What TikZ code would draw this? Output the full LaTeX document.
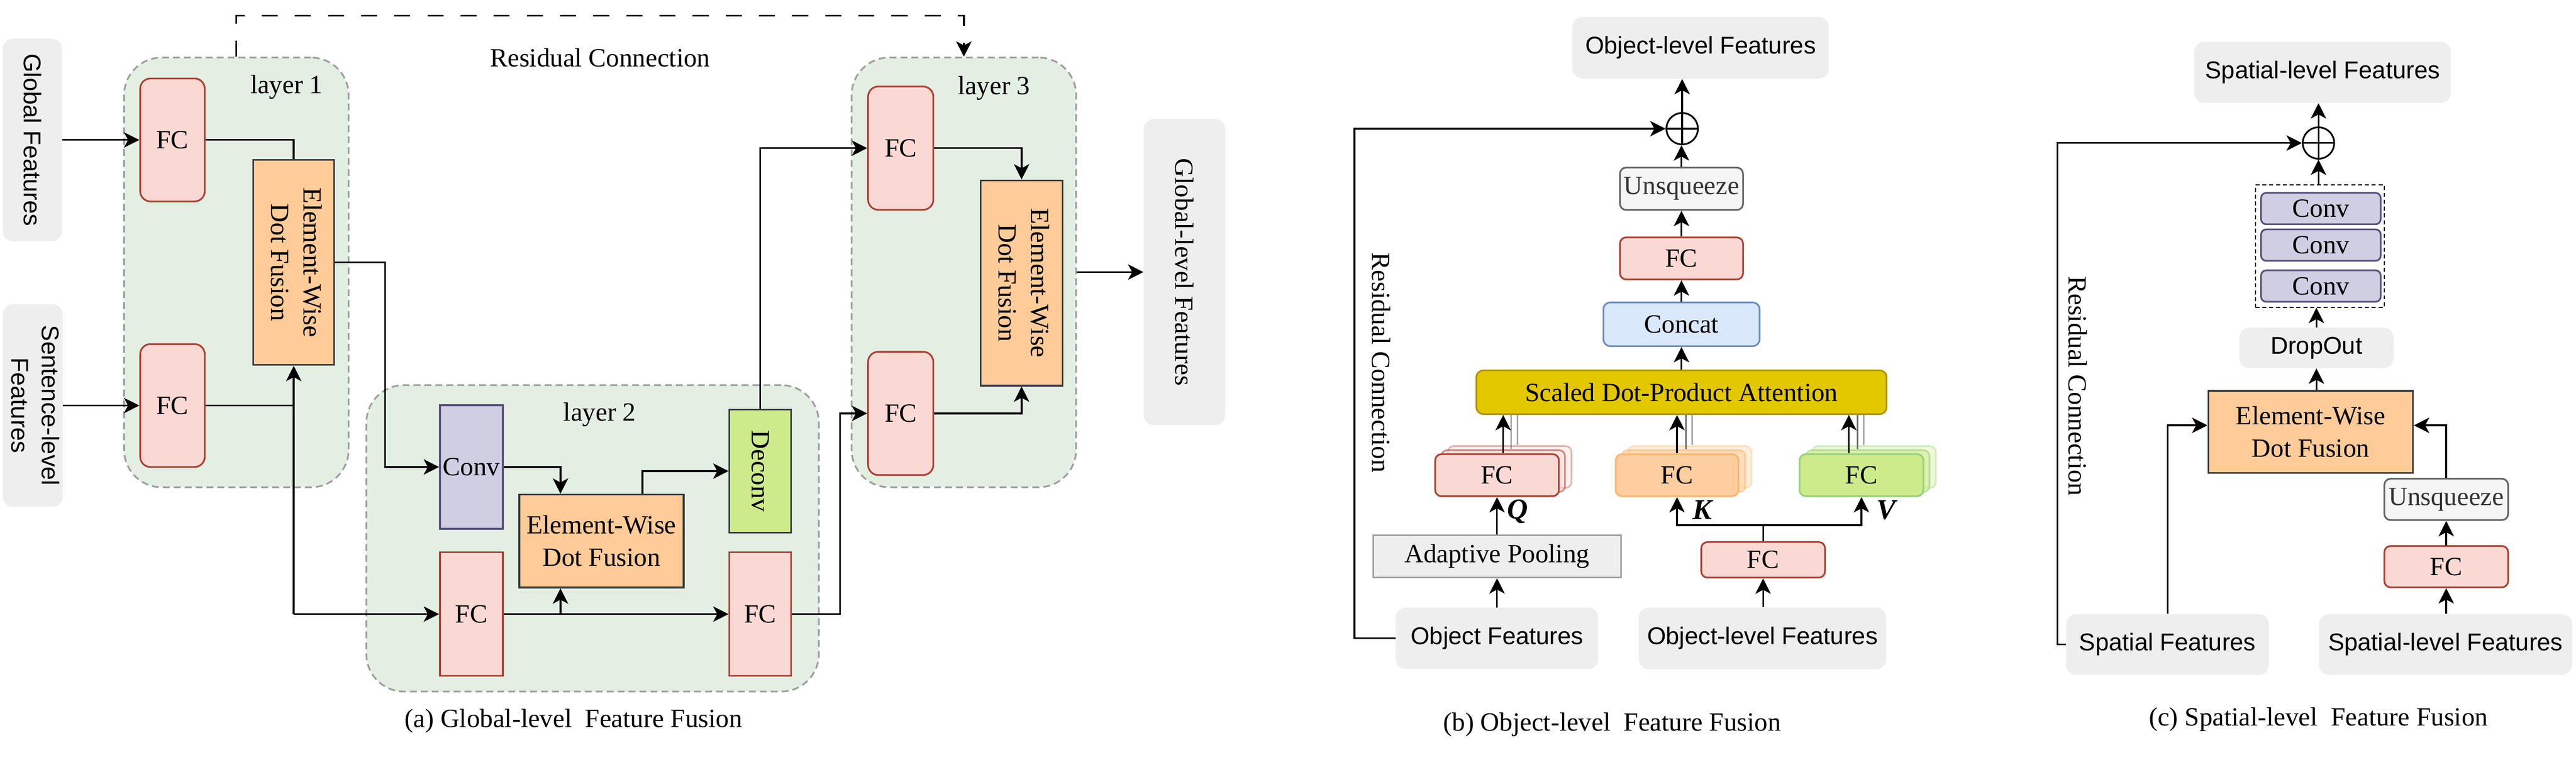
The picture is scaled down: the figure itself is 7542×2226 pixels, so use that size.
\documentclass[tikz,border=0pt]{standalone}
\usepackage{fontspec}
\setmainfont{Liberation Serif}
\setsansfont{Liberation Sans}
\usetikzlibrary{arrows.meta}
\definecolor{layerfill}{HTML}{E3EFE2}
\definecolor{layerdraw}{HTML}{9E9E9E}
\definecolor{fcfill}{HTML}{FAD9D5}
\definecolor{fcdraw}{HTML}{AE4132}
\definecolor{ewfill}{HTML}{FFCC99}
\definecolor{darkdraw}{HTML}{36393D}
\definecolor{convfill}{HTML}{D0CEE2}
\definecolor{convdraw}{HTML}{56517E}
\definecolor{dcfill}{HTML}{CDEB8B}
\definecolor{featfill}{HTML}{EEEEEE}
\definecolor{unsqfill}{HTML}{F5F5F5}
\definecolor{unsqdraw}{HTML}{666666}
\definecolor{unsqtext}{HTML}{333333}
\definecolor{catfill}{HTML}{DAE8FC}
\definecolor{catdraw}{HTML}{6C8EBF}
\definecolor{attfill}{HTML}{E3C800}
\definecolor{attdraw}{HTML}{B09500}
\definecolor{kfill}{HTML}{FFCE9F}
\definecolor{kdraw}{HTML}{FFB570}
\definecolor{vdraw}{HTML}{97D077}
\definecolor{apdraw}{HTML}{9E9E9E}
\definecolor{gdark}{HTML}{6E6E6E}
\definecolor{glight}{HTML}{A6A6A6}
\newcommand{\fs}{\fontsize{21.9pt}{27pt}\selectfont}
\newcommand{\fsf}{\sffamily\fontsize{20.2pt}{25pt}\selectfont}
\newcommand{\twoline}[2]{\begin{tabular}{@{}c@{}}#1\\#2\end{tabular}}
\tikzset{%
    ln/.style={line width=0.05cm},
    arr/.style={line width=0.05cm,-{Stealth[length=0.45cm,width=0.45cm,inset=0.12cm]}},
    gline/.style={line width=0.04cm},
    layerbox/.style={draw=layerdraw,fill=layerfill,line width=0.05cm,dash pattern=on 0.2cm off 0.12cm,rounded corners=1.1cm,minimum width=6.57cm,minimum height=12.58cm},
    feat/.style={fill=featfill,rounded corners=0.3cm,inner sep=0pt,font=\fsf},
    fcbox/.style={draw=fcdraw,fill=fcfill,line width=0.05cm,inner sep=0pt,font=\fs},
    fcq/.style={fcbox,rounded corners=0.18cm,minimum width=3.62cm,minimum height=1.23cm},
    fck/.style={fcq,draw=kdraw,fill=kfill},
    fcv/.style={fcq,draw=vdraw,fill=dcfill},
    ewbox/.style={draw=darkdraw,fill=ewfill,line width=0.05cm,inner sep=0pt,font=\fs},
    convbox/.style={draw=convdraw,fill=convfill,line width=0.05cm,inner sep=0pt,font=\fs},
    dcbox/.style={draw=darkdraw,fill=dcfill,line width=0.05cm,inner sep=0pt,font=\fs},
    unsq/.style={draw=unsqdraw,fill=unsqfill,text=unsqtext,line width=0.05cm,rounded corners=0.18cm,inner sep=0pt,font=\fs},
    catbox/.style={draw=catdraw,fill=catfill,line width=0.05cm,rounded corners=0.2cm,inner sep=0pt,font=\fs},
    attbox/.style={draw=attdraw,fill=attfill,line width=0.05cm,rounded corners=0.2cm,inner sep=0pt,font=\fs},
    apbox/.style={draw=apdraw,fill=featfill,line width=0.05cm,inner sep=0pt,font=\fs},
    qkv/.style={font=\fontsize{24pt}{28pt}\selectfont\bfseries\itshape},
    txt/.style={font=\fs},
    plus/.style={circle,draw,line width=0.05cm,minimum size=0.92cm,inner sep=0pt,
        path picture={\draw[line width=0.05cm] (path picture bounding box.north) -- (path picture bounding box.south)
        (path picture bounding box.west) -- (path picture bounding box.east);}}
}
\begin{document}
\begin{tikzpicture}[x=0.01cm,y=-0.01cm]
    \useasboundingbox (0,0) rectangle (7542,2226);
    \node[layerbox] (l1) at (692,798){};
    \node[layerbox] (l3) at (2822,798){};
    \node[layerbox,minimum width=13.24cm,minimum height=8.97cm] (l2) at (1735,1577){};
    \node[txt] (t1) at (839,255){layer 1};
    \node[txt] (t2) at (1756,1214){layer 2};
    \node[txt] (t3) at (2910,258){layer 3};
    \node[txt] (rca) at (1757,169){Residual Connection};
    \node[feat,minimum width=1.74cm,minimum height=5.93cm] (gf) at (95,410){\rotatebox{-90}{Global Features}};
    \node[feat,minimum width=1.76cm,minimum height=5.93cm] (sf) at (96,1188){\rotatebox{-90}{\twoline{Sentence-level}{Features}}};
    \node[fcbox,rounded corners=0.3cm,minimum width=1.89cm,minimum height=3.6cm] (fa1) at (505,410){FC};
    \node[fcbox,rounded corners=0.3cm,minimum width=1.89cm,minimum height=3.6cm] (fb1) at (505,1188){FC};
    \node[ewbox,minimum width=2.37cm,minimum height=6cm] (ew1) at (860,769){\rotatebox{-90}{\twoline{Element-Wise}{Dot Fusion}}};
    \node[convbox,minimum width=1.84cm,minimum height=3.62cm] (cv) at (1380,1368){Conv};
    \node[ewbox,align=center,minimum width=4.81cm,minimum height=2.72cm] (ew2) at (1761,1585){Element-Wise\\Dot Fusion};
    \node[dcbox,minimum width=1.81cm,minimum height=3.61cm] (dc) at (2226,1380){\rotatebox{-90}{Deconv}};
    \node[fcbox,minimum width=1.84cm,minimum height=3.62cm] (fa2) at (1380,1799){FC};
    \node[fcbox,minimum width=1.81cm,minimum height=3.62cm] (fb2) at (2226,1799){FC};
    \node[fcbox,rounded corners=0.3cm,minimum width=1.91cm,minimum height=3.61cm] (fa3) at (2637,434){FC};
    \node[fcbox,rounded corners=0.3cm,minimum width=1.91cm,minimum height=3.61cm] (fb3) at (2637,1211){FC};
    \node[ewbox,minimum width=2.4cm,minimum height=6.01cm] (ew3) at (2991,829){\rotatebox{-90}{\twoline{Element-Wise}{Dot Fusion}}};
    \node[feat,font=\fs,minimum width=2.39cm,minimum height=8.96cm] (go) at (3468,797){\rotatebox{-90}{Global-level Features}};
    \node[txt] (capa) at (1679,2112){(a) Global-level~ Feature Fusion};
    \coordinate (j2) at ([xshift=-1.2cm]ew2.south);
    \draw[arr,dash pattern=on 0.47cm off 0.5cm] (l1.north) -- ++(0,-120) -| (l3.north);
    \draw[arr] (gf) -- (fa1);
    \draw[arr] (sf) -- (fb1);
    \draw[ln] (fa1.east) -| (ew1.north);
    \draw[ln] (fb1.east) -- (fb1.east -| ew1.south);
    \draw[arr] (ew1.south |- fa2.west) -- (ew1.south);
    \draw[arr] (ew1.south |- fa2.west) -- (fa2.west);
    \draw[arr] (ew1.east) -- ++(146,0) |- (cv.west);
    \draw[arr] (cv.east) -| ([xshift=-1.2cm]ew2.north);
    \draw[arr] ([xshift=1.2cm]ew2.north) |- (dc.west);
    \draw[arr] (fa2) -- (fb2);
    \draw[arr] (j2 |- fa2.east) -- (j2);
    \draw[arr] (dc.north) |- (fa3.west);
    \draw[arr] (fb2.east) -- ++(140,0) |- (fb3.west);
    \draw[arr] (fa3.east) -| (ew3.north);
    \draw[arr] (fb3.east) -| (ew3.south);
    \draw[arr] (l3.east |- go) -- (go.west);
    \node[feat,minimum width=7.5cm,minimum height=1.81cm] (objo) at (4979,140){Object-level Features};
    \node[plus] (pb) at (4925,377){};
    \node[unsq,minimum width=3.6cm,minimum height=1.24cm] (ub) at (4923,553){Unsqueeze};
    \node[fcq,minimum width=3.6cm] (fcb) at (4923,757){FC};
    \node[catbox,minimum width=4.57cm,minimum height=1.28cm] (cc) at (4923,950){Concat};
    \node[attbox,minimum width=12cm,minimum height=1.28cm] (att) at (4923,1149){Scaled Dot-Product Attention};
    \node[fcq,opacity=0.35] (q2) at (4420,1368){};
    \node[fcq,opacity=0.55] (q1) at (4401,1380){};
    \node[fcq] (q) at (4383,1392){FC};
    \node[fck,opacity=0.35] (k2) at (4947,1368){};
    \node[fck,opacity=0.55] (k1) at (4929,1380){};
    \node[fck,minimum width=3.59cm] (k) at (4910,1392){FC};
    \node[fcv,opacity=0.35] (v2) at (5487,1368){};
    \node[fcv,opacity=0.55] (v1) at (5468,1380){};
    \node[fcv] (v) at (5450,1392){FC};
    \node[qkv] (lq) at (4443,1498){Q};
    \node[qkv] (lk) at (4984,1494){K};
    \node[qkv] (lv) at (5523,1494){V};
    \node[apbox,minimum width=7.25cm,minimum height=1.23cm] (ap) at (4383,1630){Adaptive Pooling};
    \node[feat,minimum width=5.93cm,minimum height=1.8cm] (of) at (4383,1870){Object Features};
    \node[fcq,minimum height=1.04cm] (fco) at (5162,1640){FC};
    \node[feat,minimum width=7.24cm,minimum height=1.81cm] (olf) at (5160,1870){Object-level Features};
    \node[txt] (rcb) at (4044,1062){\rotatebox{-90}{Residual Connection}};
    \node[txt] (capb) at (4720,2122){(b) Object-level~ Feature Fusion};
    \foreach \n/\a/\d/\l in {q/0.18/0.41/0.60,k/0/0.26/0.44,v/-0.37/-0.12/0.07}{
        \path ([xshift=\a cm]\n.north) coordinate (s0) ([xshift=\d cm]\n.north) coordinate (s1) ([xshift=\l cm]\n.north) coordinate (s2);
        \draw[gline,draw=gdark] (s1 |- \n1.north) -- (s1 |- att.south);
        \draw[gline,draw=glight] (s2 |- \n2.north) -- (s2 |- att.south);
        \draw[arr] (s0) -- (s0 |- att.south);
    }
    \draw[arr] (of) -- (ap);
    \draw[arr] (ap.north) -- (ap.north |- q.south);
    \draw[ln] (fco.north) -- ++(0,-47) coordinate (kv);
    \draw[arr] (kv) -| (k.south);
    \draw[arr] (kv) -| (v.south);
    \draw[arr] (olf.north -| fco) -- (fco);
    \draw[arr] (att) -- (cc);
    \draw[arr] (cc) -- (fcb);
    \draw[arr] (fcb) -- (ub);
    \draw[arr] (ub.north) -- (ub.north |- pb.south);
    \draw[arr] (pb.north) -- (pb.north |- objo.south);
    \draw[arr] (of.west) -- ++(-120,0) |- (pb.west);
    \node[feat,minimum width=7.51cm,minimum height=1.79cm] (spo) at (6800,212){Spatial-level Features};
    \node[plus] (pc) at (6788,419){};
    \node[draw,line width=0.03cm,dash pattern=on 0.12cm off 0.08cm,minimum width=3.77cm,minimum height=3.58cm] (cvs) at (6792,721){};
    \node[convbox,rounded corners=0.15cm,minimum width=3.5cm,minimum height=0.92cm] (c1) at (6795,611){Conv};
    \node[convbox,rounded corners=0.15cm,minimum width=3.5cm,minimum height=0.92cm] (c2) at (6795,718){Conv};
    \node[convbox,rounded corners=0.15cm,minimum width=3.5cm,minimum height=0.92cm] (c3) at (6795,838){Conv};
    \node[feat,minimum width=4.51cm,minimum height=1.19cm] (dr) at (6782,1019){DropOut};
    \node[ewbox,align=center,minimum width=5.99cm,minimum height=2.4cm] (ewc) at (6765,1265){Element-Wise\\Dot Fusion};
    \node[unsq,minimum width=3.62cm,minimum height=1.21cm] (uc) at (7162,1463){Unsqueeze};
    \node[fcq,minimum height=1.21cm] (fcc) at (7162,1660){FC};
    \node[feat,minimum width=5.93cm,minimum height=1.78cm] (spf) at (6346,1888){Spatial Features};
    \node[feat,minimum width=7.41cm,minimum height=1.78cm] (slf) at (7160,1888){Spatial-level Features};
    \node[txt] (rcc) at (6083,1131){\rotatebox{-90}{Residual Connection}};
    \node[txt] (capc) at (6788,2108){(c) Spatial-level~ Feature Fusion};
    \draw[arr] (spf.west) -- ++(-25,0) |- (pc.west);
    \draw[arr] (spf.north) |- ([yshift=0.19cm]ewc.west);
    \draw[arr] (uc.north) |- ([yshift=0.19cm]ewc.east);
    \draw[arr] (fcc) -- (uc);
    \draw[arr] (slf.north -| fcc) -- (fcc);
    \draw[arr] (ewc.north -| dr) -- (dr);
    \draw[arr] (dr.north) -- (dr.north |- cvs.south);
    \draw[arr] (cvs.north -| pc) -- (pc);
    \draw[arr] (pc.north) -- (pc.north |- spo.south);
\end{tikzpicture}
\end{document}
